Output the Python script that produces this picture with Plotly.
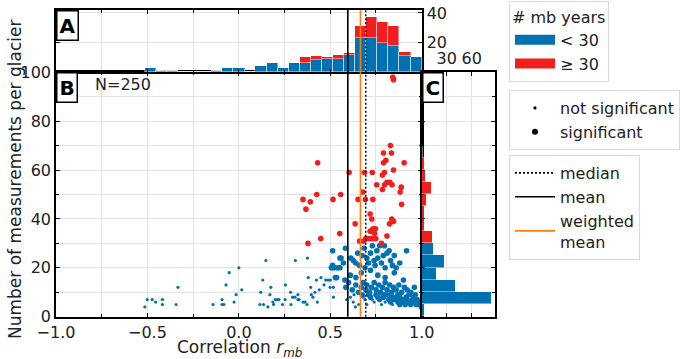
import plotly.graph_objects as go

# ---------------- data ----------------
BLUE = "#0072B2"
RED = "#F21D1D"

# scatter: blue (< 30 mb years), not significant
blue_ns_r = [-0.514, -0.501, -0.474, -0.455, -0.418, -0.418, -0.343, -0.333,
             -0.141, -0.092, -0.092, -0.082, -0.070, -0.053, -0.026, -0.015, 0.000, 0.016,
             0.115, 0.135, 0.120, 0.131, 0.148, 0.159, 0.170, 0.175, 0.186, 0.190, 0.200,
             0.210, 0.219, 0.239, 0.253, 0.255, 0.283, 0.285, 0.294, 0.307, 0.309, 0.323, 0.323,
             0.329, 0.351, 0.362, 0.373, 0.375, 0.380, 0.393, 0.396, 0.405, 0.416, 0.424,
             0.429, 0.440, 0.449, 0.466, 0.475, 0.488, 0.500, 0.499, 0.517, 0.517,
             0.626, 0.637, 0.655, 0.700, 0.780, 0.840, 0.740, 0.800, 0.590, 0.690, 0.730,
             0.610, 0.680, 0.630]
blue_ns_n = [4, 7, 7, 6, 7, 5, 5, 12,
             5, 7, 5, 5, 13, 18, 6, 9, 20, 11,
             5, 5, 10, 15, 23, 4, 9, 12, 6, 5, 7,
             7, 7, 5, 7, 13, 10, 5, 8, 8, 23, 9, 7,
             7, 6, 6, 5, 24, 16, 12, 9, 8, 10, 15,
             6, 11, 16, 13, 15, 15, 15, 12, 12, 8,
             6, 4, 5, 5, 5, 5, 6, 6, 7, 7, 7,
             8, 8, 9]

# scatter: blue (< 30 mb years), significant
blue_sig_r = [0.506, 0.513, 0.520, 0.539, 0.513, 0.528, 0.553, 0.553, 0.559, 0.535,
              0.572, 0.612, 0.626, 0.639, 0.583, 0.650, 0.660, 0.675, 0.685, 0.690, 0.700,
              0.710, 0.720, 0.730, 0.740, 0.745, 0.755, 0.760, 0.770, 0.780, 0.790, 0.796,
              0.800, 0.810, 0.822, 0.830, 0.840, 0.850, 0.860, 0.880, 0.917,
              0.580, 0.610, 0.640, 0.670, 0.720, 0.760, 0.800, 0.850, 0.900,
              0.585, 0.600, 0.620, 0.640, 0.655, 0.670, 0.680, 0.695, 0.700, 0.715, 0.725,
              0.740, 0.750, 0.765, 0.775, 0.785, 0.800, 0.810, 0.825, 0.835, 0.845, 0.860,
              0.875, 0.890, 0.905, 0.920, 0.940, 0.960,
              0.998, 0.880, 0.910, 0.940, 0.970, 0.985,
              0.830, 0.870, 0.900, 0.930, 0.960, 0.980, 0.945,
              0.770, 0.820, 0.850, 0.890, 0.920, 0.950, 0.975,
              0.720, 0.760, 0.790, 0.840, 0.880, 0.915, 0.955, 0.865,
              0.675, 0.710, 0.750, 0.790, 0.830, 0.870, 0.930, 0.965, 0.805]
blue_sig_n = [20, 27, 20, 20, 21, 16, 24, 20, 24, 16,
              22, 24, 23, 22, 28, 26, 21, 25, 28, 20, 24,
              22, 26, 29, 23, 21, 27, 24, 29, 22, 25, 29,
              20, 26, 27, 23, 21, 25, 20, 22, 27,
              15, 17, 16, 18, 19, 17, 16, 18, 15,
              12, 14, 11, 13, 10, 12, 14, 11, 13, 10, 12,
              14, 11, 13, 10, 12, 14, 11, 13, 10, 12, 11,
              13, 10, 12, 11, 10, 12,
              4, 5, 5, 5, 5, 5,
              6, 6, 6, 6, 6, 6, 6,
              7, 7, 7, 7, 7, 7, 7,
              8, 8, 8, 8, 8, 8, 8, 8,
              9, 9, 9, 9, 9, 9, 9, 9, 9]

# scatter: red (>= 30 mb years), all significant
red_r = [0.842, 0.846, 0.431, 0.829, 0.791, 0.835, 0.804, 0.791, 0.904,
         0.603, 0.687, 0.730, 0.796, 0.785, 0.846,
         0.754, 0.797, 0.810, 0.826, 0.838, 0.785, 0.888, 0.882,
         0.515, 0.557, 0.678, 0.652, 0.692, 0.733, 0.890,
         0.718, 0.727, 0.836, 0.846, 0.824, 0.636,
         0.734, 0.747, 0.718, 0.742, 0.810, 0.552,
         0.694, 0.709, 0.722, 0.736, 0.749, 0.780,
         0.351, 0.391, 0.426, 0.367, 0.378, 0.448, 0.683, 0.660]
red_n = [98, 97, 63, 70, 67, 67, 64, 63, 63,
         59, 59, 59, 59, 58, 60,
         54, 54, 55, 55, 54, 52, 53, 51,
         48, 50, 51, 48, 48, 48, 46,
         42, 40, 40, 39, 38, 38,
         36, 36, 35, 34, 33, 34,
         32, 32, 32, 32, 32, 30,
         48, 47, 50, 44, 30, 32, 31, 31]

# panel A histogram of correlation (25 bins)
hist_a_edges = [-0.514, -0.453, -0.393, -0.332, -0.272, -0.211, -0.151, -0.090, -0.030,
                0.031, 0.091, 0.152, 0.213, 0.273, 0.334, 0.394, 0.455, 0.515, 0.576,
                0.636, 0.697, 0.757, 0.818, 0.878, 0.939, 0.999]
hist_a_blue = [3, 1, 1, 0, 0, 0, 1, 3, 3, 0, 4, 6, 3, 6, 6, 8, 9, 9, 12, 23, 23, 20, 18, 11, 10]
hist_a_red = [0, 0, 0, 0, 0, 0, 0, 0, 0, 0, 0, 0, 0, 0, 4, 3, 1, 3, 1, 8, 14, 14, 13, 3, 0]

# panel C histogram of number of measurements (bins of 5)
hist_c_edges = [0, 5, 10, 15, 20, 25, 30, 35, 40, 45, 50, 55, 60, 65, 70, 75, 80, 85, 90, 95, 100]
hist_c_blue = [3, 84, 41, 18, 28, 14, 0, 0, 0, 0, 0, 0, 0, 0, 0, 0, 0, 0, 0, 0]
hist_c_red = [0, 0, 0, 0, 0, 0, 13, 4, 3, 6, 12, 5, 3, 1, 0, 0, 0, 0, 0, 2]

median_r = 0.694
mean_r = 0.596
weighted_mean_r = 0.665
n_glaciers = 250

x_ticks = [-1.0, -0.5, 0.0, 0.5, 1.0]
y_ticks = [0, 20, 40, 60, 80, 100]
a_ticks = [20, 40]
c_ticks = [30, 60]

# ---------------- layout helpers ----------------
W, H = 692, 359
FONT = "DejaVu Sans"
FS = 16
TXT = "#222222"

def fx(p):
    return p / W

def fy(p):
    return 1 - p / H

xB = [fx(56), fx(421.7)]
xC = [fx(421.7), fx(495)]
yB = [fy(316.7), fy(72.3)]
yA = [fy(72.3), fy(10)]

GRID = "#e3e3e3"

fig = go.Figure()

a_centers = [(hist_a_edges[i] + hist_a_edges[i + 1]) / 2 for i in range(len(hist_a_blue))]
a_widths = [hist_a_edges[i + 1] - hist_a_edges[i] for i in range(len(hist_a_blue))]
c_centers = [(hist_c_edges[i] + hist_c_edges[i + 1]) / 2 for i in range(len(hist_c_blue))]
c_widths = [hist_c_edges[i + 1] - hist_c_edges[i] for i in range(len(hist_c_blue))]

edge = dict(color="rgba(255,255,255,0.55)", width=0.8)

# panel A
fig.add_trace(go.Bar(x=a_centers, y=hist_a_blue, width=a_widths, marker=dict(color=BLUE, line=edge),
                     xaxis="x2", yaxis="y2", showlegend=False))
fig.add_trace(go.Bar(x=a_centers, y=hist_a_red, width=a_widths, marker=dict(color=RED, line=edge),
                     xaxis="x2", yaxis="y2", showlegend=False))

# panel C
fig.add_trace(go.Bar(y=c_centers, x=hist_c_blue, width=c_widths, orientation="h",
                     marker=dict(color=BLUE, line=edge), xaxis="x3", yaxis="y3", showlegend=False))
fig.add_trace(go.Bar(y=c_centers, x=hist_c_red, width=c_widths, orientation="h",
                     marker=dict(color=RED, line=edge), xaxis="x3", yaxis="y3", showlegend=False))

# panel B scatter
fig.add_trace(go.Scatter(x=blue_ns_r, y=blue_ns_n, mode="markers",
                         marker=dict(color=BLUE, size=3.2, line=dict(width=0)), showlegend=False))
fig.add_trace(go.Scatter(x=blue_sig_r, y=blue_sig_n, mode="markers",
                         marker=dict(color=BLUE, size=5.6, line=dict(width=0)), showlegend=False))
fig.add_trace(go.Scatter(x=red_r, y=red_n, mode="markers",
                         marker=dict(color=RED, size=5.6, line=dict(width=0)), showlegend=False))

# legend-only traces
fig.add_trace(go.Scatter(x=[None], y=[None], mode="lines", line=dict(color=BLUE, width=12),
                         name="&lt; 30", legend="legend"))
fig.add_trace(go.Scatter(x=[None], y=[None], mode="lines", line=dict(color=RED, width=12),
                         name="≥ 30", legend="legend"))
fig.add_trace(go.Scatter(x=[None], y=[None], mode="markers", marker=dict(color="black", size=3.2),
                         name="not significant", legend="legend2"))
fig.add_trace(go.Scatter(x=[None], y=[None], mode="markers", marker=dict(color="black", size=6),
                         name="significant", legend="legend2"))
fig.add_trace(go.Scatter(x=[None], y=[None], mode="lines", line=dict(color="black", width=1.6, dash="2px,2px"),
                         name="median", legend="legend3"))
fig.add_trace(go.Scatter(x=[None], y=[None], mode="lines", line=dict(color="black", width=1.6),
                         name="mean", legend="legend3"))
fig.add_trace(go.Scatter(x=[None], y=[None], mode="lines", line=dict(color="#FF7F0E", width=1.6),
                         name="weighted<br>mean", legend="legend3"))

# vertical lines in A and B
for xr, yr in (("x", "y domain"), ("x2", "y2 domain")):
    fig.add_shape(type="line", xref=xr, yref=yr, x0=mean_r, x1=mean_r, y0=0, y1=1,
                  line=dict(color="black", width=1.6))
    fig.add_shape(type="line", xref=xr, yref=yr, x0=weighted_mean_r, x1=weighted_mean_r, y0=0, y1=1,
                  line=dict(color="#FF7F0E", width=1.6))
    fig.add_shape(type="line", xref=xr, yref=yr, x0=median_r, x1=median_r, y0=0, y1=1,
                  line=dict(color="black", width=1.4, dash="2px,2px"))

axis_common = dict(showline=True, linecolor="black", linewidth=1.5, ticks="inside", ticklen=4,
                   tickwidth=1.3, tickcolor="black", gridcolor=GRID, gridwidth=1, zeroline=False,
                   automargin=False, tickfont=dict(family=FONT, size=FS, color=TXT))
minor_common = dict(ticks="inside", ticklen=3, tickcolor="black", showgrid=True, gridcolor=GRID)

legend_common = dict(xanchor="left", yanchor="top", bgcolor="white", bordercolor="#d8d8d8",
                     borderwidth=1, font=dict(family=FONT, size=FS, color=TXT), itemwidth=40)

fig.update_layout(
    width=W, height=H, margin=dict(l=0, r=0, t=0, b=0),
    paper_bgcolor="white", plot_bgcolor="white",
    barmode="stack", bargap=0,
    font=dict(family=FONT, size=FS, color=TXT),
    xaxis=dict(domain=xB, anchor="y", range=[-1, 1], tickvals=x_ticks, tickformat=".1f",
               mirror="ticks", minor=dict(dtick=0.25, **minor_common), **axis_common),
    yaxis=dict(domain=yB, anchor="x", range=[0, 100], tickvals=y_ticks,
               mirror="ticks", minor=dict(dtick=10, **minor_common), **axis_common),
    xaxis2=dict(domain=xB, anchor="y2", range=[-1, 1], matches="x", tickvals=x_ticks,
                showticklabels=False, mirror="ticks", minor=dict(dtick=0.25, **minor_common),
                **axis_common),
    yaxis2=dict(domain=yA, anchor="x2", range=[0, 42], side="right", tickvals=a_ticks,
                mirror="ticks", showgrid=True, **axis_common),
    xaxis3=dict(domain=xC, anchor="y3", range=[0, 88], side="top", tickvals=c_ticks,
                mirror="ticks", **axis_common),
    yaxis3=dict(domain=yB, anchor="x3", range=[0, 100], matches="y", tickvals=y_ticks,
                showticklabels=False, side="right", mirror="ticks",
                minor=dict(dtick=10, **minor_common), **axis_common),
    legend=dict(x=fx(509), y=fy(1), title=dict(text="# mb years", font=dict(family=FONT, size=FS)),
                traceorder="normal", **legend_common),
    legend2=dict(x=fx(509), y=fy(90), **legend_common),
    legend3=dict(x=fx(509), y=fy(155), **legend_common),
)

# axis titles
fig.add_annotation(text="Correlation <i>r</i><sub><i>mb</i></sub>", xref="paper", yref="paper",
                   x=fx(239), y=fy(348), xanchor="center", yanchor="middle", showarrow=False,
                   font=dict(family=FONT, size=17, color=TXT))
fig.add_annotation(text="Number of measurements per glacier", xref="paper", yref="paper",
                   x=fx(15), y=fy(180), xanchor="center", yanchor="middle", textangle=-90,
                   showarrow=False, font=dict(family=FONT, size=17, color=TXT))

box = dict(bgcolor="white", bordercolor="black", borderwidth=1.5, borderpad=2,
           font=dict(family=FONT, size=20, color="black"), showarrow=False,
           xanchor="left", yanchor="top")
fig.add_annotation(text="<b>A</b>", xref="x2 domain", yref="y2 domain", x=0, y=1, **box)
fig.add_annotation(text="<b>B</b>", xref="x domain", yref="y domain", x=0, y=1, **box)
fig.add_annotation(text="<b>C</b>", xref="x3 domain", yref="y3 domain", x=0, y=1, **box)
fig.add_annotation(text=f"N={n_glaciers}", xref="x domain", yref="y domain", x=0.1, y=0.952,
                   xanchor="left", yanchor="middle", showarrow=False,
                   font=dict(family=FONT, size=FS, color=TXT))

# remove the default page margin so the figure sits at the window's top-left corner
fig.write_html("out.html", config={"displayModeBar": False},
               post_script="document.body.style.margin='0';")
